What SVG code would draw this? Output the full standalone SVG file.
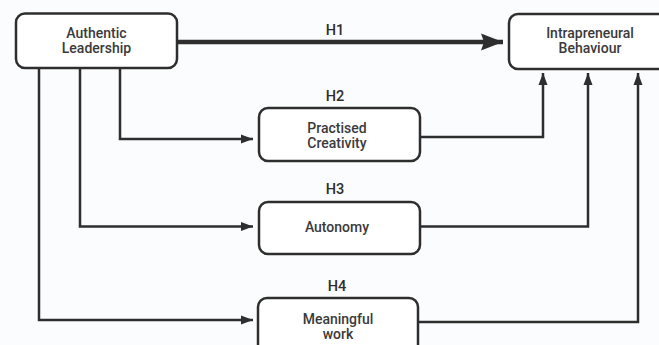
<svg xmlns="http://www.w3.org/2000/svg" width="659" height="345" viewBox="0 0 659 345">
  <style>
    .box { fill: #ffffff; stroke: #2e2e2e; stroke-width: 2.5; }
    .lbl { font-family: Roboto, "Liberation Sans", sans-serif; font-size: 14px; font-weight: 500; fill: #3a3a3a; text-anchor: middle; }
    .h { font-family: Roboto, "Liberation Sans", sans-serif; font-size: 14.5px; font-weight: 500; fill: #2e2e2e; text-anchor: middle; }
    .conn { fill: none; stroke: #2e2e2e; stroke-width: 2.5; stroke-linejoin: miter; }
    .thick { fill: none; stroke: #2e2e2e; stroke-width: 4.5; }
  </style>
  <defs>
    <marker id="arr" markerUnits="userSpaceOnUse" markerWidth="12" markerHeight="10" refX="12" refY="5" orient="auto">
      <path d="M0,0.5 L12,5 L0,9.5 Z" fill="#2e2e2e"/>
    </marker>
    <marker id="arrBig" markerUnits="userSpaceOnUse" markerWidth="22" markerHeight="18" refX="22" refY="9" orient="auto">
      <path d="M0,0.5 L22,9 L0,17.5 L3,9 Z" fill="#2e2e2e"/>
    </marker>
  </defs>
  <rect width="659" height="345" fill="#fbfcfd"/>

  <g id="connectors">
    <path class="thick" d="M177 42 H503" marker-end="url(#arrBig)"/>
    <path class="conn" d="M120 68 V139 H253" marker-end="url(#arr)"/>
    <path class="conn" d="M80 68 V226.5 H253" marker-end="url(#arr)"/>
    <path class="conn" d="M39 68 V320 H253" marker-end="url(#arr)"/>
    <path class="conn" d="M420 137 H543 V73" marker-end="url(#arr)"/>
    <path class="conn" d="M420 226.5 H588 V73" marker-end="url(#arr)"/>
    <path class="conn" d="M418 322 H638 V73" marker-end="url(#arr)"/>
    <text class="h" x="335" y="35">H1</text>
    <text class="h" x="335" y="101">H2</text>
    <text class="h" x="335" y="194">H3</text>
    <text class="h" x="337" y="291">H4</text>
  </g>

  <g id="authentic-leadership">
    <rect class="box" x="16" y="13.5" width="161" height="54.5" rx="9"/>
    <text class="lbl" x="96.5" y="37.5">Authentic</text>
    <text class="lbl" x="96.5" y="53">Leadership</text>
  </g>

  <g id="intrapreneural-behaviour">
    <rect class="box" x="509" y="14" width="163" height="55" rx="9"/>
    <text class="lbl" x="590" y="37.5">Intrapreneural</text>
    <text class="lbl" x="590" y="53">Behaviour</text>
  </g>

  <g id="practised-creativity">
    <rect class="box" x="259" y="108" width="161" height="53" rx="9"/>
    <text class="lbl" x="337" y="132.5">Practised</text>
    <text class="lbl" x="337" y="148">Creativity</text>
  </g>

  <g id="autonomy">
    <rect class="box" x="259" y="202" width="161" height="52" rx="9"/>
    <text class="lbl" x="337" y="232">Autonomy</text>
  </g>

  <g id="meaningful-work">
    <rect class="box" x="258" y="298" width="160" height="56" rx="9"/>
    <text class="lbl" x="338" y="323.5">Meaningful</text>
    <text class="lbl" x="338" y="339">work</text>
  </g>
</svg>
